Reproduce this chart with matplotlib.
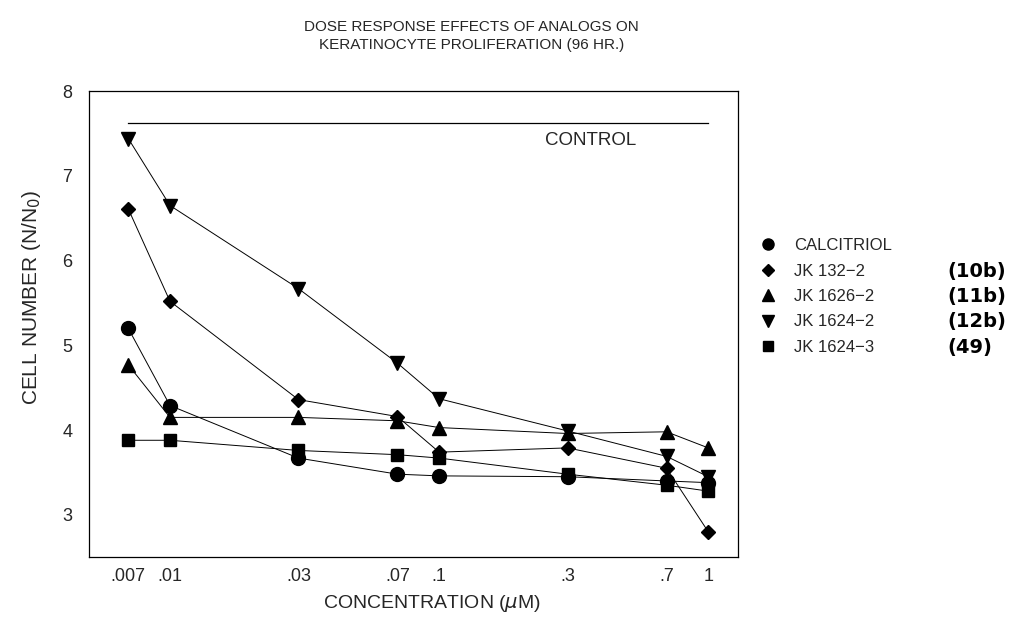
import matplotlib
matplotlib.use("Agg")
import matplotlib.pyplot as plt
from matplotlib.lines import Line2D
from matplotlib.ticker import FixedLocator, FixedFormatter, NullLocator

plt.rcParams['font.family'] = ['Liberation Sans', 'DejaVu Sans']

conc = [0.007, 0.01, 0.03, 0.07, 0.1, 0.3, 0.7, 1.0]
tick_labels = ['.007', '.01', '.03', '.07', '.1', '.3', '.7', '1']

calcitriol = [5.20, 4.29, 3.67, 3.48, 3.46, 3.45, 3.40, 3.38]
jk132_2 = [6.61, 5.52, 4.36, 4.16, 3.74, 3.79, 3.55, 2.80]
jk1626_2 = [4.77, 4.15, 4.15, 4.11, 4.03, 3.96, 3.98, 3.79]
jk1624_2 = [7.44, 6.65, 5.67, 4.79, 4.37, 3.99, 3.69, 3.45]
jk1624_3 = [3.88, 3.88, 3.76, 3.71, 3.67, 3.48, 3.35, 3.28]

control_value = 7.62
control_range = [0.007, 1.0]

series_names = ['CALCITRIOL', 'JK 132\u22122', 'JK 1626\u22122', 'JK 1624\u22122', 'JK 1624\u22123']
compound_ids = ['', '(10b)', '(11b)', '(12b)', '(49)']

series = [calcitriol, jk132_2, jk1626_2, jk1624_2, jk1624_3]
markers = ['o', 'D', '^', 'v', 's']
msizes = [10, 7, 10, 9.5, 9]
lsizes = [8, 6, 8, 8, 7]

txt = '#262626'
fig = plt.figure(figsize=(10.11, 6.24), dpi=100)
ax = fig.add_axes([0.088, 0.107, 0.642, 0.747])

ax.plot(control_range, [control_value, control_value], color='black', lw=0.9)
ax.text(0.367, 7.42, 'CONTROL', ha='center', va='center', fontsize=13.5, color=txt)

for ys, m, ms in zip(series, markers, msizes):
    ax.plot(conc, ys, color='black', lw=0.7, marker=m, markersize=ms,
            markerfacecolor='black', markeredgecolor='black')

ax.set_xscale('log')
ax.set_xlim(0.005, 1.29)
ax.set_ylim(2.5, 8)
ax.xaxis.set_major_locator(FixedLocator(conc))
ax.xaxis.set_major_formatter(FixedFormatter(tick_labels))
ax.xaxis.set_minor_locator(NullLocator())
ax.set_yticks([3, 4, 5, 6, 7, 8])
ax.tick_params(axis='both', length=0, labelsize=13, labelcolor=txt, pad=8)
ax.tick_params(axis='y', pad=12)
for s in ax.spines.values():
    s.set_linewidth(0.9)

ax.set_xlabel('CONCENTRATION ($\\mu$M)', fontsize=14, color=txt)
ax.xaxis.label.set_va('center')
ax.xaxis.set_label_coords(0.528, -0.099)
ax.set_ylabel('CELL NUMBER (N/N$_0$)', fontsize=15, color=txt)
ax.yaxis.label.set_va('center')
ax.yaxis.set_label_coords(-0.088, 0.558)

fig.text(0.466, 0.957, 'DOSE RESPONSE EFFECTS OF ANALOGS ON', ha='center', va='center',
         fontsize=11, color=txt)
fig.text(0.466, 0.928, 'KERATINOCYTE PROLIFERATION (96 HR.)', ha='center', va='center',
         fontsize=11, color=txt)

handles = [Line2D([], [], ls='none', marker=m, markersize=s, color='black')
           for m, s in zip(markers, lsizes)]
leg = fig.legend(handles, series_names, loc='upper left', bbox_to_anchor=(0.751, 1 - 238 / 624),
                 bbox_transform=fig.transFigure, frameon=False, fontsize=12,
                 handlelength=1.0, handletextpad=1.1, labelspacing=0.63, labelcolor=txt,
                 borderaxespad=0, borderpad=0)

fig.canvas.draw()
renderer = fig.canvas.get_renderer()
inv = fig.transFigure.inverted()
for t, cid in zip(leg.get_texts(), compound_ids):
    if not cid:
        continue
    bb = t.get_window_extent(renderer)
    yc = inv.transform((0, (bb.y0 + bb.y1) / 2))[1]
    fig.text(0.9375, yc, cid, ha='left', va='center', fontsize=14,
             fontweight='bold', family='DejaVu Sans', color='black')

fig.savefig('out.png', dpi=100)
